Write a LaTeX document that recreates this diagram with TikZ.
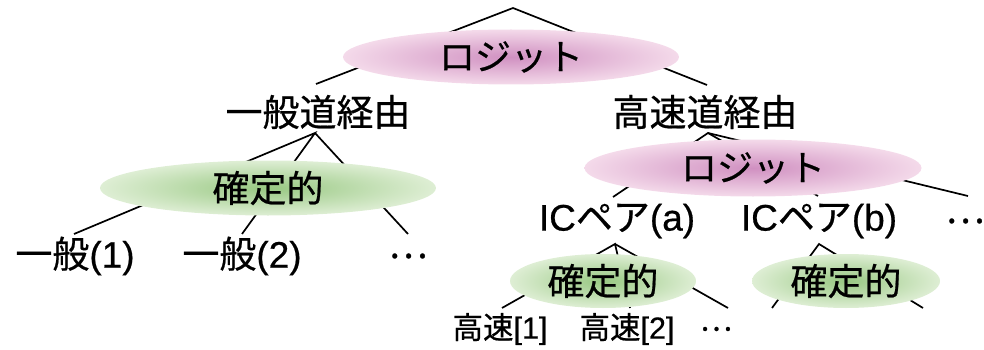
\documentclass[tikz,border=0pt]{standalone}
\usepackage{fontspec}
\setmainfont[FakeBold=0.5]{Liberation Sans}
\newfontfamily\cjk[FakeBold=0.6]{Noto Sans CJK JP}
\usetikzlibrary{shapes.geometric}
\definecolor{pinkin}{RGB}{208,144,193}
\definecolor{pinkout}{RGB}{244,218,234}
\definecolor{greenin}{RGB}{152,200,130}
\definecolor{greenout}{RGB}{222,238,212}
\tikzset{
  big/.style={font=\fontsize{37}{40}\selectfont, inner sep=0pt},
  small/.style={font=\fontsize{30.5}{32}\selectfont, inner sep=0pt},
  logit/.style={ellipse, draw=none, shading=radial, inner color=pinkin, outer color=pinkout,
    inner sep=0pt, font=\fontsize{36}{40}\selectfont},
  detm/.style={ellipse, draw=none, shading=radial, inner color=greenin, outer color=greenout,
    inner sep=0pt, font=\fontsize{37}{40}\selectfont},
  link/.style={line width=1.7pt, black},
}
\begin{document}
\begin{tikzpicture}[x=1pt,y=-1pt]
\useasboundingbox (0,0) rectangle (984,350);
% text nodes
\node[big] (gen) at (318,112) {\cjk 一般道経由};
\node[big] (hwy) at (705,112) {\cjk 高速道経由};
\node[big] (g1) at (75,256) {{\cjk 一般}(1)};
\node[big] (g2) at (242,256) {{\cjk 一般}(2)};
\node[big] (gd) at (408,256) {\cjk …};
\node[big] (ica) at (617,221) {IC{\cjk ペア}(a)};
\node[big] (icb) at (819,221) {IC{\cjk ペア}(b)};
\node[big] (icd) at (965,221) {\cjk …};
\node[small] (h1) at (500,329) {{\cjk 高速}[1]};
\node[small] (h2) at (627,329) {{\cjk 高速}[2]};
\node[small] (hd) at (716,329) {\cjk …};
% connector coordinates
\coordinate (root) at (513,8);
\coordinate (genT) at (316,84);
\coordinate (hwyT) at (707,85);
\coordinate (genB) at (315,133);
\coordinate (g1T) at (74,234);
\coordinate (g2T) at (242,234);
\coordinate (gdT) at (408,234);
\coordinate (hwyB) at (708,133);
\coordinate (icaT) at (613,197);
\coordinate (icbT) at (818,196);
\coordinate (icdT) at (968,196);
\coordinate (icaB) at (615,244);
\coordinate (h1T) at (502,308);
\coordinate (h2T) at (630,308);
\coordinate (hdT) at (728,308);
\coordinate (icbB) at (819,244);
\coordinate (bL) at (772,308);
\coordinate (bR) at (923,308);
% connectors
\draw[link] (genT) -- (root) -- (hwyT);
\draw[link] (g1T) -- (genB) -- (g2T);
\draw[link] (genB) -- (gdT);
\draw[link] (icaT) -- (hwyB) -- (icbT);
\draw[link] (hwyB) -- (icdT);
\draw[link] (h1T) -- (icaB) -- (h2T);
\draw[link] (icaB) -- (hdT);
\draw[link] (bL) -- (icbB) -- (bR);
% ellipses
\node[logit, minimum width=336pt, minimum height=55pt] (lg1) at (511,57) {\cjk ロジット};
\node[logit, minimum width=337pt, minimum height=57pt] (lg2) at (753,168) {\cjk ロジット};
\node[detm, minimum width=336pt, minimum height=55pt] (d1) at (268,188) {\cjk 確定的};
\node[detm, minimum width=186pt, minimum height=54pt] (d2) at (603,281) {\cjk 確定的};
\node[detm, minimum width=188pt, minimum height=54pt] (d3) at (846,281) {\cjk 確定的};
\end{tikzpicture}
\end{document}
